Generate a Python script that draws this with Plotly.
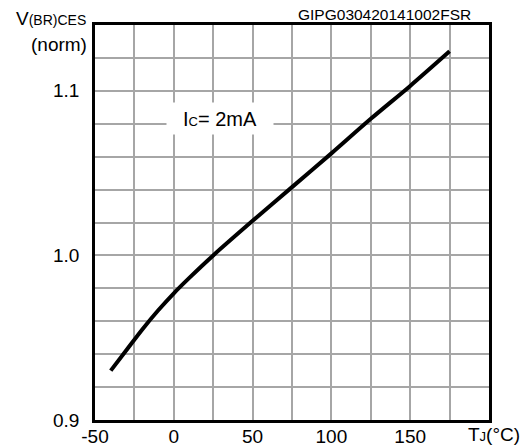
import plotly.graph_objects as go

# Data
temp_c = [-40, -30, -20, -10, 0, 10, 25, 50, 75, 100, 125, 150, 175]
v_norm = [0.930, 0.9425, 0.955, 0.9665, 0.977, 0.9865, 1.000, 1.021, 1.0415, 1.062, 1.083, 1.103, 1.124]

x_tickvals = [-50, -25, 0, 25, 50, 75, 100, 125, 150, 175, 200]
x_ticktext = ["-50", "", "0", "", "50", "", "100", "", "150", "", ""]
y_tickvals = [0.90, 0.92, 0.94, 0.96, 0.98, 1.00, 1.02, 1.04, 1.06, 1.08, 1.10, 1.12, 1.14]
y_ticktext = ["0.9", "", "", "", "", "1.0", "", "", "", "", "1.1", "", ""]

FONT = "Liberation Sans, Arial, sans-serif"

fig = go.Figure()
fig.add_trace(go.Scatter(
    x=temp_c, y=v_norm, mode="lines",
    line=dict(color="black", width=4, shape="spline", smoothing=0.8),
    hoverinfo="skip", showlegend=False,
))

fig.update_layout(
    width=525, height=448,
    margin=dict(l=95, r=36, t=25, b=28),
    paper_bgcolor="white", plot_bgcolor="white",
    font=dict(family=FONT, color="black", size=19),
    xaxis=dict(
        range=[-50, 200], tickmode="array", tickvals=x_tickvals, ticktext=x_ticktext,
        showgrid=True, gridcolor="#a6a6a6", gridwidth=1.5,
        showline=True, linecolor="black", linewidth=2.5, mirror=True,
        ticks="", zeroline=False, ticklabelstandoff=-3, automargin=False,
        tickfont=dict(size=19),
    ),
    yaxis=dict(
        range=[0.9, 1.14], tickmode="array", tickvals=y_tickvals, ticktext=y_ticktext,
        showgrid=True, gridcolor="#a6a6a6", gridwidth=1.5,
        showline=True, linecolor="black", linewidth=2.5, mirror=True,
        ticks="", zeroline=False, ticklabelstandoff=9, automargin=False,
        tickfont=dict(size=19),
    ),
)

fig.add_annotation(
    xref="paper", yref="paper", x=0.736, y=1.0, xanchor="center", yanchor="bottom",
    yshift=0, text="GIPG030420141002FSR", showarrow=False,
    font=dict(size=15.5, family=FONT),
)
fig.add_annotation(
    xref="paper", yref="paper", x=-0.017, y=1.0, xanchor="right", yanchor="bottom",
    yshift=-6, text="V<span style='font-size:14px'>(BR)CES</span>", showarrow=False,
    font=dict(size=19, family=FONT),
)
fig.add_annotation(
    xref="paper", yref="paper", x=-0.015, y=1.0, xanchor="right", yanchor="top",
    yshift=-7, text="(norm)", showarrow=False,
    font=dict(size=19, family=FONT),
)
fig.add_annotation(
    xref="paper", yref="paper", x=1.0, y=0.0, xanchor="right", yanchor="top",
    xshift=33, yshift=-2, text="T<span style='font-size:13px'>J</span>(°C)", showarrow=False,
    font=dict(size=19, family=FONT),
)
fig.add_annotation(
    x=29.5, y=1.083, xref="x", yref="y", xanchor="center", yanchor="middle",
    text="I<span style='font-size:13px'>C</span>= 2mA", showarrow=False,
    bgcolor="white", borderpad=3, width=100, height=25,
    font=dict(size=20, family=FONT),
)

fig.write_html(
    "out.html",
    config={"displayModeBar": False},
    post_script="document.body.style.margin='0';document.body.style.overflow='hidden';",
)
